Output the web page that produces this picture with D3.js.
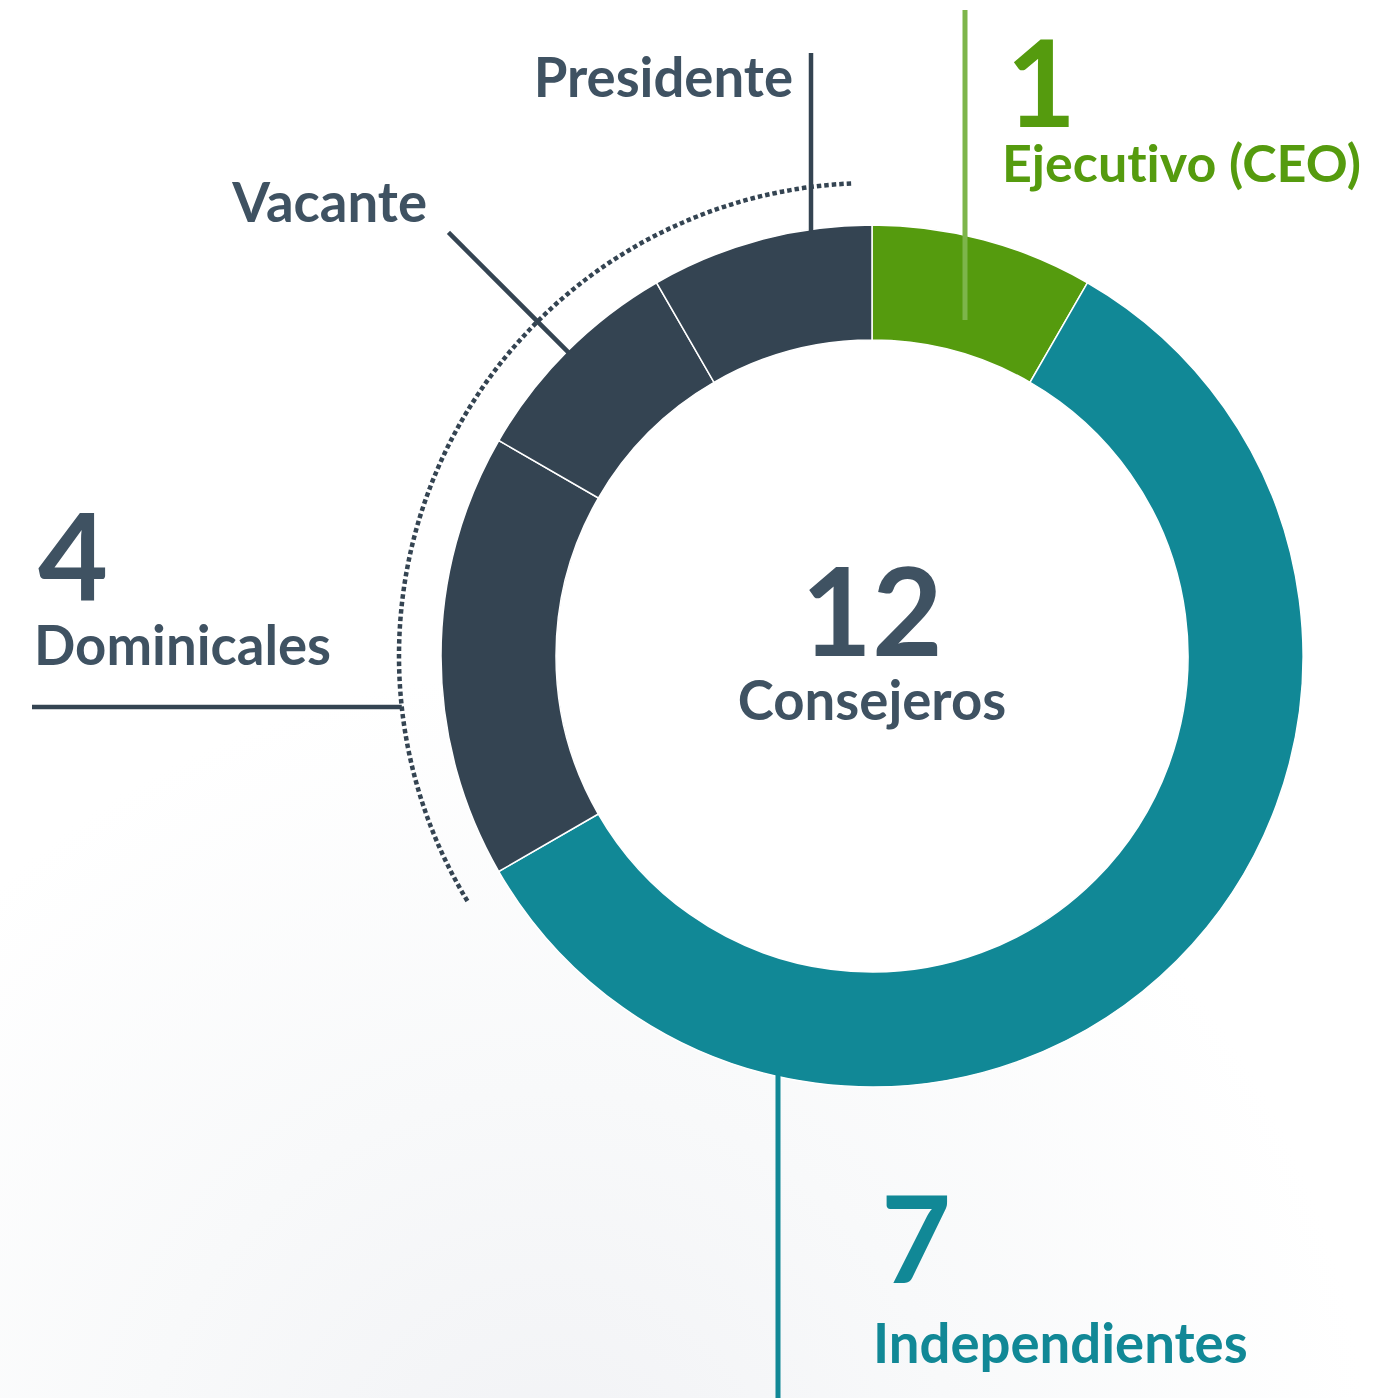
<!DOCTYPE html>
<html>
<head>
<meta charset="utf-8">
<script src="https://cdn.jsdelivr.net/npm/d3@7"></script>
<style>
  html, body { margin: 0; padding: 0; background: #fff; }
  svg { display: block; }
  text { font-family: Lato, "Open Sans", sans-serif; font-weight: 700; font-variant-ligatures: none; }
</style>
</head>
<body>
<div id="chart"></div>
<script>
// Data
const segments = ["Ejecutivo (CEO)", "Independientes", "Dominicales", "Vacante", "Presidente"];
const counts = [1, 7, 2, 1, 1];
const groups = ["Ejecutivo (CEO)", "Independientes", "Dominicales"];
const groupCounts = [1, 7, 4];
const centerLabel = "Consejeros";

// Setup
const width = 1373, height = 1398;
const cx = 872, cy = 656;
const innerR = 316, outerR = 431, dotR = 473;

const green = "#559b0e", teal = "#118896", dark = "#344452", textDark = "#3f5262";
const segColor = d3.scaleOrdinal().domain(segments).range([green, teal, dark, dark, dark]);

const svg = d3.select("#chart").append("svg")
  .attr("width", width)
  .attr("height", height);

// Background: faint grey wash along the bottom
const defs = svg.append("defs");
const bg = defs.append("radialGradient")
  .attr("id", "bg")
  .attr("cx", "0.4").attr("cy", "1.08").attr("r", "0.6");
bg.append("stop").attr("offset", "0").attr("stop-color", "#f1f2f5");
bg.append("stop").attr("offset", "0.5").attr("stop-color", "#f8f9fa");
bg.append("stop").attr("offset", "1").attr("stop-color", "#ffffff");
svg.append("rect").attr("width", width).attr("height", height).attr("fill", "url(#bg)");

const g = svg.append("g").attr("transform", `translate(${cx},${cy})`);

// Donut
const pie = d3.pie().sort(null).value(d => d.value);
const arc = d3.arc().innerRadius(innerR).outerRadius(outerR);
const arcs = pie(segments.map((s, i) => ({ name: s, value: counts[i] })));

g.append("circle").attr("r", innerR).attr("fill", "#fff");

g.selectAll("path.slice")
  .data(arcs)
  .join("path")
  .attr("class", "slice")
  .attr("d", arc)
  .attr("fill", d => segColor(d.data.name))
  .attr("stroke", "#fff")
  .attr("stroke-width", 1.5);

// helper: point on a circle at angle (d3 convention: 0 at top, clockwise)
const pt = (a, r) => [Math.sin(a) * r, -Math.cos(a) * r];
const deg = d => d * Math.PI / 180;

// Dotted bracket around the dominical block
const domStart = arcs[2].startAngle - deg(1.2), domEnd = arcs[4].endAngle - deg(2.4);
const bracket = d3.path();
const [bx, by] = pt(domStart, dotR);
bracket.moveTo(bx, by);
bracket.arc(0, 0, dotR, domStart - Math.PI / 2, domEnd - Math.PI / 2, false);
g.append("path")
  .attr("d", bracket.toString())
  .attr("fill", "none")
  .attr("stroke", dark)
  .attr("stroke-width", 4.5)
  .attr("stroke-dasharray", "4.5 3");

// Leader lines
const lines = g.append("g").attr("fill", "none").attr("stroke-width", 4.5);

// Presidente: vertical from the outer edge upward
const presX = -61;
lines.append("line")
  .attr("x1", presX).attr("x2", presX)
  .attr("y1", -Math.sqrt(outerR * outerR - presX * presX) + 2)
  .attr("y2", 53 - cy)
  .attr("stroke", dark);

// Vacante: radial through the middle of its slice
const vacA = (arcs[3].startAngle + arcs[3].endAngle) / 2;
const [vx1, vy1] = pt(vacA, outerR - 2), [vx2, vy2] = pt(vacA, outerR + 168);
lines.append("line")
  .attr("x1", vx1).attr("y1", vy1).attr("x2", vx2).attr("y2", vy2)
  .attr("stroke", dark);

// Ejecutivo: vertical crossing its slice
lines.append("line")
  .attr("x1", 93).attr("x2", 93)
  .attr("y1", 320 - cy).attr("y2", 10 - cy)
  .attr("stroke", "#7db54a").attr("stroke-width", 5);

// Dominicales: horizontal to the dotted bracket
const domY = 707 - cy;
lines.append("line")
  .attr("x1", 32 - cx).attr("x2", -Math.sqrt(dotR * dotR - domY * domY))
  .attr("y1", domY).attr("y2", domY)
  .attr("stroke", dark);

// Independientes: vertical down from the outer edge
const indX = -94;
lines.append("line")
  .attr("x1", indX).attr("x2", indX)
  .attr("y1", Math.sqrt(outerR * outerR - indX * indX) - 2)
  .attr("y2", height - cy)
  .attr("stroke", teal).attr("stroke-width", 5);

// Labels
const label = (x, y, txt, size, color, anchor) =>
  svg.append("text")
    .attr("x", x).attr("y", y)
    .attr("font-size", size)
    .attr("fill", color)
    .attr("text-anchor", anchor || "start")
    .text(txt);

const numSize = 121, lblSize = 54.5;

// Centre total
label(cx, 656, d3.sum(counts), 122, textDark, "middle");
label(cx, 720, centerLabel, lblSize, textDark, "middle");

// Ejecutivo
label(1006, 127, groupCounts[0], numSize, green);
label(1002, 182, groups[0], 52, green);

// Independientes
label(881, 1283, groupCounts[1], numSize, teal);
label(873, 1363, groups[1], lblSize, teal);

// Dominicales
label(38, 600, groupCounts[2], numSize, textDark);
label(34, 665, groups[2], lblSize, textDark);

// Sub-labels of the dominical block
label(793, 97, segments[4], lblSize, textDark, "end");
label(427, 222, segments[3], lblSize, textDark, "end");
</script>
</body>
</html>
